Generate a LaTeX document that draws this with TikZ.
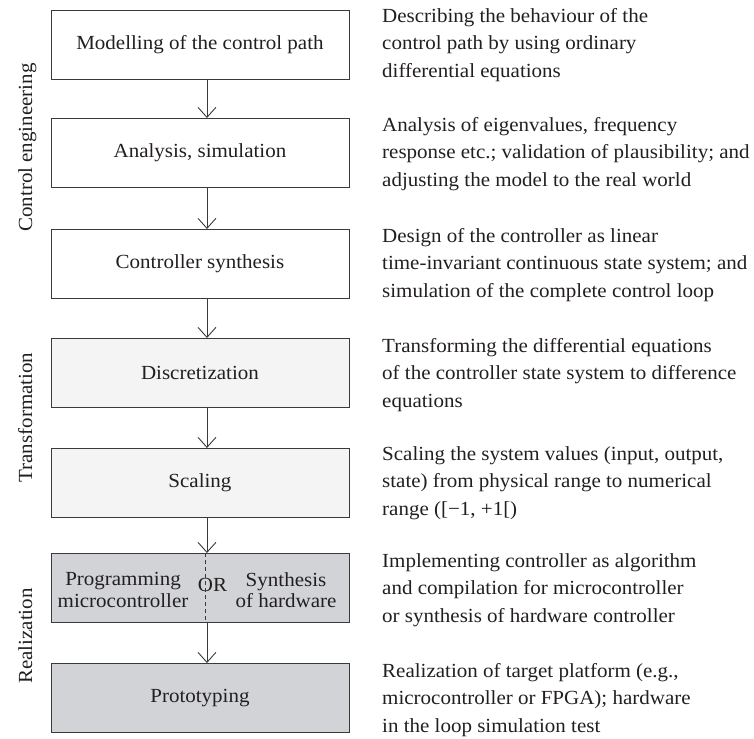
\documentclass[tikz,border=0pt]{standalone}
\usepackage{fontspec}
\setmainfont{Liberation Serif}[FakeStretch=1.05]
\usetikzlibrary{arrows.meta}
\definecolor{ink}{HTML}{231F20}
\definecolor{edge}{HTML}{3A3A3A}
\definecolor{paleband}{HTML}{F4F4F4}
\definecolor{darkband}{HTML}{D1D3D6}
\begin{document}
\begin{tikzpicture}[x=1pt,y=-1pt,
  every node/.style={font=\fontsize{20}{27.5}\selectfont, text=ink},
  stage/.style={draw=edge, line width=0.9pt, minimum width=298pt,
    minimum height=69pt, inner sep=0pt, anchor=north west},
  flow/.style={draw=edge, line width=0.9pt,
    -{Straight Barb[length=10pt,width=18pt]}},
  note/.style={anchor=north west, align=left, inner sep=0pt},
  phase/.style={rotate=90, anchor=base, inner sep=0pt},
  pair/.style={align=center, inner sep=0pt,
    font=\fontsize{20}{21.5}\selectfont}]
\useasboundingbox (0,0) rectangle (754,738);

% process stages
\node[stage, fill=white]     (model)    at (50.5,10)  {Modelling of the control path};
\node[stage, fill=white]     (analysis) at (50.5,118) {Analysis, simulation};
\node[stage, fill=white]     (synth)    at (50.5,229) {Controller synthesis};
\node[stage, fill=paleband]  (discr)    at (50.5,338) {Discretization};
\node[stage, fill=paleband]  (scale)    at (50.5,448) {Scaling};
\node[stage, fill=darkband]  (impl)     at (50.5,553) {};
\node[stage, fill=darkband]  (proto)    at (50.5,663) {Prototyping};

% alternative realizations inside the implementation stage
\draw[edge, line width=0.9pt, dash pattern=on 4pt off 3pt]
  ([xshift=5.5pt]impl.north) coordinate (split top) -- ([xshift=5.5pt]impl.south) coordinate (split bottom);
\node[pair] (prog) at (123,590) {Programming\\microcontroller};
\node[pair] (hw)   at (286,590) {Synthesis\\of hardware};
\node[inner sep=0pt] (or) at (212.5,584.5) {OR};

% connectors
\foreach \a/\b in {model/analysis, analysis/synth, synth/discr,
                   discr/scale, scale/impl, impl/proto}
  \draw[flow] ([xshift=7pt]\a.south) -- ([xshift=7pt]\b.north);

% phase labels
\node[phase] (ph1) at (32,147.5) {Control engineering};
\node[phase] (ph2) at (32,417.5) {Transformation};
\node[phase] (ph3) at (32,636)   {Realization};

% descriptions
\node[note] (d1) at (382,2.75)   {\strut Describing the behaviour of the\\control path by using ordinary\\differential equations};
\node[note] (d2) at (382,111.75) {\strut Analysis of eigenvalues, frequency\\response etc.; validation of plausibility; and\\adjusting the model to the real world};
\node[note] (d3) at (382,222.75) {\strut Design of the controller as linear\\time-invariant continuous state system; and\\simulation of the complete control loop};
\node[note] (d4) at (382,332.75) {\strut Transforming the differential equations\\of the controller state system to difference\\equations};
\node[note] (d5) at (382,440.75) {\strut Scaling the system values (input, output,\\state) from physical range to numerical\\range ([−1, +1[)};
\node[note] (d6) at (382,547.75) {\strut Implementing controller as algorithm\\and compilation for microcontroller\\or synthesis of hardware controller};
\node[note] (d7) at (382,657.75) {\strut Realization of target platform (e.g.,\\microcontroller or FPGA); hardware\\in the loop simulation test};
\end{tikzpicture}
\end{document}
